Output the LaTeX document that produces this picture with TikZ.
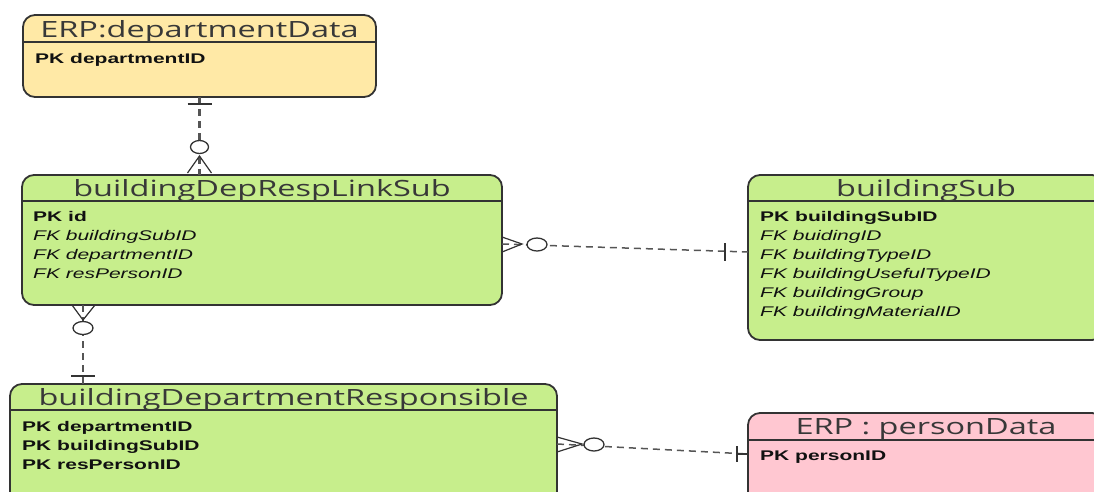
\documentclass[tikz,border=0pt]{standalone}
\usepackage{fontspec}
\setmainfont{Liberation Sans}
\newfontfamily\hdrfont[FakeStretch=1.45]{Open Sans}
\newfontfamily\bodyfont[FakeStretch=1.5]{Liberation Sans}
\usetikzlibrary{calc}
\definecolor{ylw}{HTML}{FFE9A6}
\definecolor{grn}{HTML}{C7EE8C}
\definecolor{pnk}{HTML}{FFC7D1}
\definecolor{edgec}{HTML}{333333}
\definecolor{connc}{HTML}{555555}
\definecolor{hdrtxt}{HTML}{383838}
\definecolor{bodytxt}{HTML}{111111}
\tikzset{
  entity/.style={draw=edgec, line width=1.8pt, rounded corners=12pt, anchor=north west, inner sep=0pt, outer sep=0pt},
  hline/.style={draw=edgec, line width=1.2pt},
  hdr/.style={font=\hdrfont\fontsize{22.4}{24}\selectfont, text=hdrtxt, inner sep=0pt, anchor=base},
  pkrow/.style={font=\bodyfont\bfseries\fontsize{14}{16}\selectfont, text=bodytxt, inner sep=0pt, anchor=base west},
  fkrow/.style={font=\bodyfont\itshape\fontsize{14}{16}\selectfont, text=bodytxt, inner sep=0pt, anchor=base west},
  rel/.style={draw=connc, line width=1.5pt, dash pattern=on 7pt off 5pt},
  relv/.style={draw=connc, line width=2.2pt, dash pattern=on 7pt off 5pt},
  relsym/.style={draw=edgec, line width=1.2pt, solid},
  relring/.style={draw=edgec, line width=1.3pt, fill=white, solid}
}
\begin{document}
\begin{tikzpicture}[x=1pt,y=-1pt]
\useasboundingbox (0,0) rectangle (1094,491);
\clip (0,0) rectangle (1094,491);

% entities
\node[entity, fill=ylw, minimum width=353pt, minimum height=82pt] (dep) at (23,15) {};
\node[entity, fill=grn, minimum width=480pt, minimum height=130pt] (link) at (22,175) {};
\node[entity, fill=grn, minimum width=356pt, minimum height=165pt] (bsub) at (748,175) {};
\node[entity, fill=grn, minimum width=547pt, minimum height=125pt] (resp) at (10,384) {};
\node[entity, fill=pnk, minimum width=356pt, minimum height=100pt] (person) at (748,413) {};

% header separators
\draw[hline] ($(dep.north west)+(0,27)$) -- ($(dep.north east)+(0,27)$);
\draw[hline] ($(link.north west)+(0,26)$) -- ($(link.north east)+(0,26)$);
\draw[hline] ($(bsub.north west)+(0,26)$) -- ($(bsub.north east)+(0,26)$);
\draw[hline] ($(resp.north west)+(0,26)$) -- ($(resp.north east)+(0,26)$);
\draw[hline] ($(person.north west)+(0,27)$) -- ($(person.north east)+(0,27)$);

% headers
\node[hdr] (depH) at ($(dep.north)+(0,22)$) {ERP:departmentData};
\node[hdr] (linkH) at ($(link.north)+(0,21.5)$) {buildingDepRespLinkSub};
\node[hdr] (bsubH) at ($(bsub.north)+(0,21.5)$) {buildingSub};
\node[hdr] (respH) at ($(resp.north)+(0,21.5)$) {buildingDepartmentResponsible};
\node[hdr] (personH) at ($(person.north)+(0,21.5)$) {ERP : personData};

% attributes
\node[pkrow] (dep1) at ($(dep.north west)+(12,48)$) {PK departmentID};

\node[pkrow] (link1) at ($(link.north west)+(11,46.7)$) {PK id};
\node[fkrow] (link2) at ($(link.north west)+(11,65.7)$) {FK buildingSubID};
\node[fkrow] (link3) at ($(link.north west)+(11,84.7)$) {FK departmentID};
\node[fkrow] (link4) at ($(link.north west)+(11,103.7)$) {FK resPersonID};

\node[pkrow] (bsub1) at ($(bsub.north west)+(12,46.7)$) {PK buildingSubID};
\node[fkrow] (bsub2) at ($(bsub.north west)+(12,65.7)$) {FK buidingID};
\node[fkrow] (bsub3) at ($(bsub.north west)+(12,84.7)$) {FK buildingTypeID};
\node[fkrow] (bsub4) at ($(bsub.north west)+(12,103.7)$) {FK buildingUsefulTypeID};
\node[fkrow] (bsub5) at ($(bsub.north west)+(12,122.7)$) {FK buildingGroup};
\node[fkrow] (bsub6) at ($(bsub.north west)+(12,141.7)$) {FK buildingMaterialID};

\node[pkrow] (resp1) at ($(resp.north west)+(12,47)$) {PK departmentID};
\node[pkrow] (resp2) at ($(resp.north west)+(12,66)$) {PK buildingSubID};
\node[pkrow] (resp3) at ($(resp.north west)+(12,85)$) {PK resPersonID};

\node[pkrow] (person1) at ($(person.north west)+(12,47)$) {PK personID};

% connector end points
\coordinate (c1a) at (dep.south);
\coordinate (c1b) at (dep.south |- link.north);
\coordinate (c2a) at ($(link.north east)+(0,69)$);
\coordinate (c2b) at ($(bsub.north west)+(0,77)$);
\coordinate (c3a) at ($(link.south west)+(61,0)$);
\coordinate (c3b) at ($(resp.north west)+(73,0)$);
\coordinate (c4a) at ($(resp.north east)+(0,60)$);
\coordinate (c4b) at ($(person.north west)+(0,41)$);

% connectors
\draw[relv] (c1a) -- (c1b);
\draw[rel] (c2a) -- (c2b);
\draw[relv] (c3a) -- (c3b);
\draw[rel] (c4a) -- (c4b);

% department -> link : one / zero-or-many
\draw[relsym] ($(c1a)+(-12,7)$) -- ($(c1a)+(12,7)$);
\draw[relsym] ($(c1b)+(-12,-2)$) -- ($(c1b)+(0,-19)$) -- ($(c1b)+(12,-2)$);
\draw[relring] ($(c1b)+(0,-28)$) ellipse [x radius=9, y radius=6.5];

% link -> buildingSub
\draw[relsym] ($(c2a)+(0,-7)$) -- ($(c2a)+(20,0)$) -- ($(c2a)+(0,8)$);
\draw[relring] ($(c2a)+(35,0.5)$) ellipse [x radius=10, y radius=6.5];
\draw[relsym] ($(c2b)+(-23,-9)$) -- ($(c2b)+(-23,9)$);

% link -> resp
\draw[relsym] ($(c3a)+(-11,0)$) -- ($(c3a)+(0,15)$) -- ($(c3a)+(12,0)$);
\draw[relring] ($(c3a)+(0,23)$) ellipse [x radius=10, y radius=6.5];
\draw[relsym] ($(c3b)+(-12,-8)$) -- ($(c3b)+(12,-8)$);

% resp -> person
\draw[relsym] ($(c4a)+(0,-7)$) -- ($(c4a)+(25,0)$) -- ($(c4a)+(0,8)$);
\draw[relring] ($(c4a)+(37,0.5)$) ellipse [x radius=10, y radius=6.5];
\draw[relsym, line width=2pt] ($(c4b)+(-11,-8)$) -- ($(c4b)+(-11,8)$);
\draw[relsym] ($(c4b)+(-11,0)$) -- (c4b);
\end{tikzpicture}
\end{document}
